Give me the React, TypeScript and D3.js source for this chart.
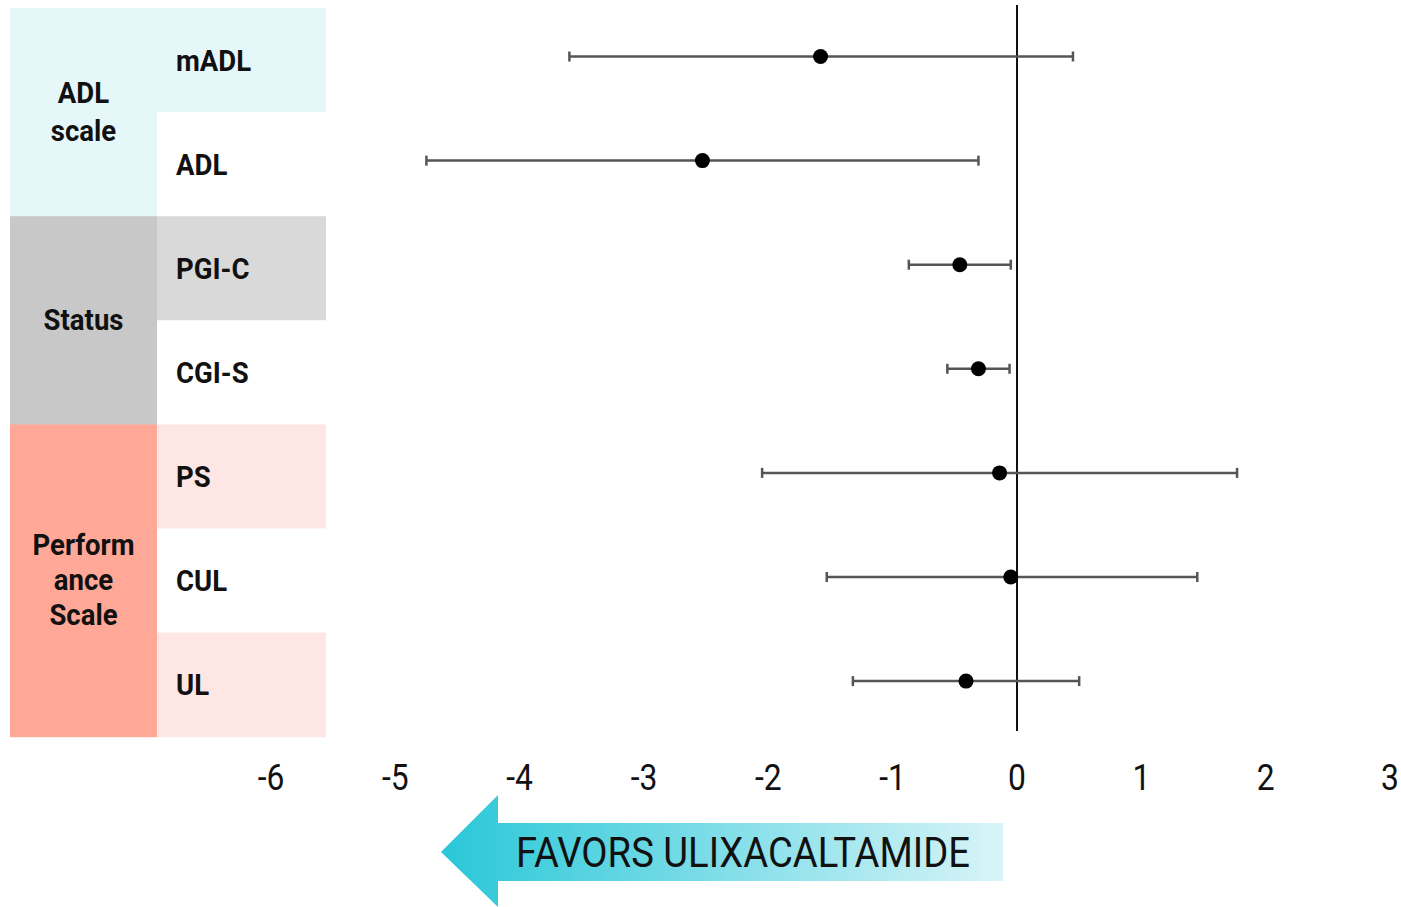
import React from "react";
import * as d3 from "d3";

const measures = ["mADL", "ADL", "PGI-C", "CGI-S", "PS", "CUL", "UL"];
const estimates = [-1.58, -2.53, -0.46, -0.31, -0.14, -0.05, -0.41];
const lower = [-3.6, -4.75, -0.87, -0.56, -2.05, -1.53, -1.32];
const upper = [0.45, -0.31, -0.05, -0.06, 1.77, 1.45, 0.5];
const rowFills = ["#e6f7fa", "#ffffff", "#d9d9d9", "#ffffff", "#fde6e4", "#ffffff", "#fde6e4"];
const groups = [
  { lines: ["ADL", "scale"], start: 0, span: 2, fill: "#e6f7fa" },
  { lines: ["Status"], start: 2, span: 2, fill: "#c8c8c8" },
  { lines: ["Perform", "ance", "Scale"], start: 4, span: 3, fill: "#ffa898" },
];
const ticks = [-6, -5, -4, -3, -2, -1, 0, 1, 2, 3];
const arrowText = "FAVORS ULIXACALTAMIDE";

export default function App() {
  const x = d3.scaleLinear().domain([-6, 3]).range([271, 1390]);
  const rowH = 104.1;
  const top = 8;
  const y = (i: number) => top + i * rowH;
  const cap = 5;

  const T = (props: any) => {
    const { x: tx, y: ty, anchor, sx, children, ...rest } = props;
    return (
      <text
        transform={`translate(${tx},${ty}) scale(${sx},1)`}
        textAnchor={anchor || "start"}
        dominantBaseline="central"
        {...rest}
      >
        {children}
      </text>
    );
  };

  return (
    <svg
      width={1401}
      height={907}
      style={{ position: "absolute", left: 0, top: 0, fontFamily: "Roboto, sans-serif" }}
    >
      <defs>
        <linearGradient id="arrowGrad" x1="0" x2="1" y1="0" y2="0">
          <stop offset="0" stopColor="#29c7d8" />
          <stop offset="1" stopColor="#d8f4f8" />
        </linearGradient>
      </defs>
      {measures.map((m, i) => (
        <g key={m}>
          <rect x={157} y={y(i)} width={169} height={rowH + 0.5} fill={rowFills[i]} />
          <T x={176} y={y(i) + 53} sx={0.95} fontSize={29} fontWeight={700} fill="#111">
            {m}
          </T>
        </g>
      ))}
      {groups.map((g) => {
        const cy = y(g.start) + (g.span * rowH) / 2;
        const lh = g.lines.length === 2 ? 38 : 35;
        return (
          <g key={g.lines.join("")}>
            <rect x={10} y={y(g.start)} width={147} height={g.span * rowH + 0.5} fill={g.fill} />
            {g.lines.map((l, k) => (
              <T
                key={l}
                x={83.5}
                y={cy + (k - (g.lines.length - 1) / 2) * lh}
                anchor="middle"
                sx={0.95}
                fontSize={29}
                fontWeight={700}
                fill="#111"
              >
                {l}
              </T>
            ))}
          </g>
        );
      })}
      <line x1={x(0)} x2={x(0)} y1={5} y2={731} stroke="#111" strokeWidth={2} />
      {measures.map((m, i) => {
        const cy = y(i) + 48.5;
        return (
          <g key={m + "bar"}>
            <line x1={x(lower[i])} x2={x(upper[i])} y1={cy} y2={cy} stroke="#555" strokeWidth={2.5} />
            <line x1={x(lower[i])} x2={x(lower[i])} y1={cy - cap} y2={cy + cap} stroke="#555" strokeWidth={2.5} />
            <line x1={x(upper[i])} x2={x(upper[i])} y1={cy - cap} y2={cy + cap} stroke="#555" strokeWidth={2.5} />
            <circle cx={x(estimates[i])} cy={cy} r={7.5} fill="#000" />
          </g>
        );
      })}
      {ticks.map((t) => (
        <T key={t} x={x(t)} y={777} anchor="middle" sx={0.86} fontSize={37} fill="#111">
          {String(t)}
        </T>
      ))}
      <path
        d="M441,852 L498,795 L498,823 L1003,823 L1003,881 L498,881 L498,907 Z"
        fill="url(#arrowGrad)"
      />
      <text
        x={516}
        y={852}
        dominantBaseline="central"
        fontSize={42}
        fill="#111"
        textLength={454}
        lengthAdjust="spacingAndGlyphs"
      >
        {arrowText}
      </text>
    </svg>
  );
}
